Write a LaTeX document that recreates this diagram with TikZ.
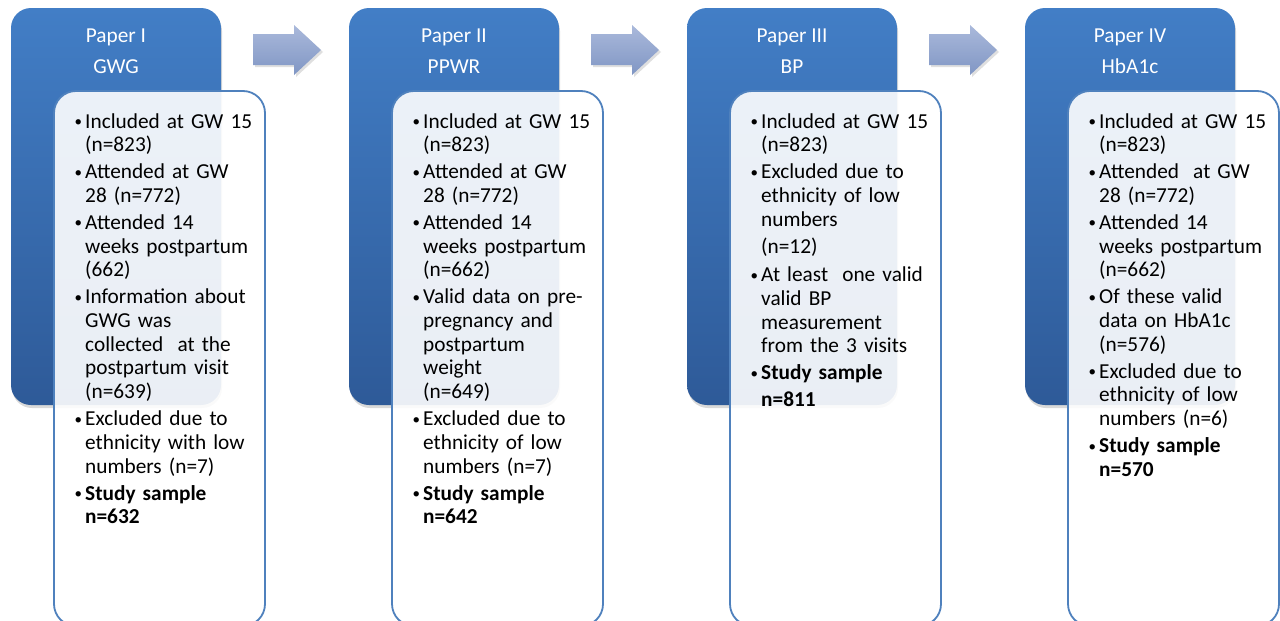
\documentclass[tikz,border=0pt]{standalone}
\usepackage{fontspec}
\setmainfont{Carlito}
\usetikzlibrary{shadows}
\definecolor{bluetop}{RGB}{66,126,198}
\definecolor{bluemid}{RGB}{42,104,176}
\definecolor{bluebot}{RGB}{46,90,152}
\definecolor{boxline}{RGB}{79,129,189}
\definecolor{arrtop}{RGB}{170,185,219}
\definecolor{arrbot}{RGB}{128,150,196}
\newcommand\mybullet{\makebox[11pt][l]{\hspace{0.5pt}\raisebox{1.6pt}{\fontsize{15}{15}\selectfont\textbullet}}}
\newcommand\firstitem[1]{\hangindent=11pt\hangafter=1\noindent\mybullet#1}
\newcommand\bitem[1]{\par\hangindent=11pt\hangafter=1\noindent\mybullet#1}
\newcommand\plainitem[1]{\par\hangindent=11pt\hangafter=0\noindent#1}
\newcommand\lsetup{\setlength{\parskip}{3.3pt}}
\tikzset{
  bluebox/.style={top color=bluetop, middle color=bluemid, bottom color=bluebot,
    rounded corners=20pt, drop shadow={opacity=0.3, shadow xshift=1pt, shadow yshift=-3pt}},
  whitebox/.style={draw=boxline, line width=1.8pt, fill=white, fill opacity=0.9, rounded corners=22pt},
  flowarrow/.style={top color=arrtop, bottom color=arrbot,
    drop shadow={opacity=0.25, shadow xshift=2pt, shadow yshift=-2pt}},
  heading/.style={anchor=base, inner sep=0pt, text=white, font=\fontsize{21.3}{25}\selectfont},
  listtext/.style={anchor=base west, text width=205pt, align=left, inner sep=0pt,
    font=\fontsize{21.3}{23.7}\selectfont}
}
\begin{document}
\begin{tikzpicture}[x=1pt,y=-1pt]
\useasboundingbox (0,0) rectangle (1280,621);
% blue background boxes
\foreach \x in {11,349,687,1025}{
  \path[bluebox] (\x,8) rectangle ++(210,397);
}
% arrows
\foreach \x in {253,591,929}{
  \path[flowarrow] (\x,34) -- ++(41,0) -- ++(0,-9) -- ++(27,25) -- ++(-27,25) -- ++(0,-10) -- ++(-41,0) -- cycle;
}
% white boxes
\foreach \x in {54,392,730,1068}{
  \path[whitebox] (\x,91) rectangle ++(211,535);
}
% headings
\node[heading] (h1a) at (116,42) {Paper I};
\node[heading] (h1b) at (116,73) {GWG};
\node[heading] (h2a) at (454,42) {Paper II};
\node[heading] (h2b) at (454,73) {PPWR};
\node[heading] (h3a) at (792,42) {Paper III};
\node[heading] (h3b) at (792,73) {BP};
\node[heading] (h4a) at (1130,42) {Paper IV};
\node[heading] (h4b) at (1130,73) {HbA1c};
% lists
\node[listtext] (t1) at (74,128) {\lsetup\firstitem{Included at GW 15\newline (n=823)}
\bitem{Attended at GW\newline 28 (n=772)}
\bitem{Attended 14\newline weeks postpartum\newline (662)}
\bitem{Information about\newline GWG was\newline collected\ \ at the\newline postpartum visit\newline (n=639)}
\bitem{Excluded due to\newline ethnicity with low\newline numbers (n=7)}
\bitem{\textbf{Study sample\newline n=632}}\par};
\node[listtext] (t2) at (412,128) {\lsetup\firstitem{Included at GW 15\newline (n=823)}
\bitem{Attended at GW\newline 28 (n=772)}
\bitem{Attended 14\newline weeks postpartum\newline (n=662)}
\bitem{Valid data on pre-\newline pregnancy and\newline postpartum\newline weight\newline (n=649)}
\bitem{Excluded due to\newline ethnicity of low\newline numbers (n=7)}
\bitem{\textbf{Study sample\newline n=642}}\par};
\node[listtext] (t3) at (750,128) {\lsetup\firstitem{Included at GW 15\newline (n=823)}
\bitem{Excluded due to\newline ethnicity of low\newline numbers}
\plainitem{\vspace*{1.5pt}(n=12)}
\bitem{At least\ \ one valid\newline valid BP\newline measurement\newline from the 3 visits}
\bitem{\textbf{Study sample}}
\plainitem{\textbf{n=811}}\par};
\node[listtext] (t4) at (1088,128) {\lsetup\firstitem{Included at GW 15\newline (n=823)}
\bitem{Attended\ \ at GW\newline 28 (n=772)}
\bitem{Attended 14\newline weeks postpartum\newline (n=662)}
\bitem{Of these valid\newline data on HbA1c\newline (n=576)}
\bitem{Excluded due to\newline ethnicity of low\newline numbers (n=6)}
\bitem{\textbf{Study sample\newline n=570}}\par};
\end{tikzpicture}
\end{document}
